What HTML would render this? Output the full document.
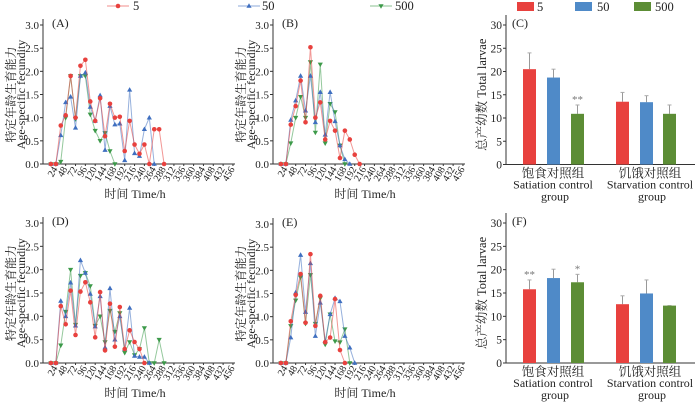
<!DOCTYPE html>
<html><head><meta charset="utf-8"><style>
body{margin:0;background:#fff}
svg{display:block}
svg text{font-family:"Liberation Serif","Noto Serif CJK SC",serif}
</style></head><body>
<svg id="c" width="700" height="402" viewBox="0 0 700 402"></svg>
<script>
const colors=["#e8413e","#3f6fc0","#3d9a4a"];
const barColors=["#e8413e","#4f8ac8","#5c8d35"];
const seriesNames=["5","50","500"];
const yTicks=[0,0.5,1.0,1.5,2.0,2.5,3.0];
const xTicks=[24,48,72,96,120,144,168,192,216,240,264,288,312,336,360,384,408,432,456];
const barTicks=[0,5,10,15,20,25,30];
const groups=["Satiation","Starvation"];
// line series (index i -> time 12*(i+1))
const A5=[0,0,0.83,1.05,1.9,1.0,2.12,2.25,1.35,0.93,1.42,0.6,1.3,1.0,1.02,0.28,0.93,0.42,0.22,0.42,0,0.75,0.75,0];
const A50=[0,0,0.62,1.33,1.45,0.78,1.9,1.97,1.23,0.93,1.48,0.3,1.25,0.85,0.87,0.08,1.6,0.23,0.17,0.75,1.0,0];
const A500=[0,0,0.05,1.0,1.9,0.97,1.9,1.9,1.07,0.72,0.5,0.67,0.28,0];
const B5=[0,0,0.85,1.25,1.8,0.9,2.52,1.0,1.33,0.53,0.93,0.72,0.13,0.72,0.53,0.2,0];
const B50=[0,0,0.95,1.37,1.9,1.15,1.9,0.9,1.55,0.63,1.55,0.92,0.4,0.1,0];
const B500=[0,0,0.45,1.0,1.45,1.0,2.2,0.68,2.15,0.45,1.3,1.12,0.4,0];
const D5=[0,0,1.22,0.83,1.55,0.6,1.53,1.73,1.3,0.55,1.52,0.27,1.27,0.35,1.2,0.3,0.7,0.45,0.3,0];
const D50=[0,0,1.33,1.0,1.72,0.8,2.2,1.93,1.48,0.78,1.43,0.33,1.6,0.5,1.0,0.3,1.18,0.15,0.13,0.13,0];
const D500=[0,0,0.38,1.1,2.0,0.82,1.87,1.93,1.65,0.8,1.0,0.45,1.12,0.67,1.07,0.22,0.45,0.17,0.3,0.75,0,0,0.5,0];
const E5=[0,0,0.9,1.47,1.92,0.87,2.35,0.8,1.45,0.45,0.55,1.38,0.28,0];
const E50=[0,0,0.55,1.52,2.33,1.1,2.15,0.58,1.3,0.47,1.05,1.4,1.33,0.58,0.33,0];
const E500=[0,0,0.8,1.35,1.85,0.85,1.9,0.85,1.4,0.4,1.05,0.47,0.45,0.73,0];
// bar data
const C_vals=[[20.5,18.7,10.9],[13.5,13.4,10.9]];
const C_err=[[24.0,20.5,12.8],[15.5,14.8,12.8]];
const C_sig=[["","","**"],["","",""]];
const F_vals=[[15.8,18.2,17.3],[12.6,14.9,12.3]];
const F_err=[[17.8,20.1,19.0],[14.4,17.8,12.3]];
const F_sig=[["**","","*"],["","",""]];

const svg=document.getElementById('c');
const NS="http://www.w3.org/2000/svg";
function mk(tag,attrs,parent,text){const e=document.createElementNS(NS,tag);for(const k in attrs)e.setAttribute(k,attrs[k]);if(text!==undefined)e.textContent=text;(parent||svg).appendChild(e);return e;}

function marker(g,shape,x,y,col){
  let m;
  if(shape===0)m=mk('circle',{cx:x,cy:y,r:2.3,fill:col},g);
  else if(shape===1)m=mk('polygon',{points:`${x},${y-2.8} ${x-2.6},${y+1.8} ${x+2.6},${y+1.8}`,fill:col},g);
  else m=mk('polygon',{points:`${x},${y+2.8} ${x-2.6},${y-1.8} ${x+2.6},${y-1.8}`,fill:col},g);
  return m;
}

function linePanel(name,label,ax,y0,y3,series){
  const g=mk('g',{});
  
  
  const ys=v=>y0-(v/3)*(y0-y3);
  const xs=t=>ax+3+t*0.41;
  const axEnd=ax+192;
  const yAx=mk('line',{x1:ax,y1:y3-6,x2:ax,y2:y0,stroke:'#333','stroke-width':1},g);
  
  const xAx=mk('line',{x1:ax,y1:y0,x2:axEnd,y2:y0,stroke:'#333','stroke-width':1},g);
  
  yTicks.forEach(v=>{
    mk('line',{x1:ax-3,y1:ys(v),x2:ax,y2:ys(v),stroke:'#333'},g);
    const t=mk('text',{x:ax-4,y:ys(v)+4,'text-anchor':'end','font-size':11,fill:'#222'},g,v.toFixed(1));
    
  });
  xTicks.forEach(v=>{
    const x=xs(v);
    mk('line',{x1:x,y1:y0,x2:x,y2:y0+2,stroke:'#333'},g);
    const t=mk('text',{x:x+2,y:y0+5,'text-anchor':'end','font-size':10,fill:'#222',transform:`rotate(-60 ${x+2} ${y0+5})`},g,String(v));
    
  });
  const pl=mk('text',{x:ax+9,y:y3+2,'font-size':12,fill:'#222'},g,label);
  
  const xt=mk('text',{x:ax+92,y:y0+34,'text-anchor':'middle','font-size':12,fill:'#222'},g,'时间 Time/h');
  
  const cy=(y0+y3)/2;
  const t1=mk('text',{x:ax-28,y:cy,'text-anchor':'middle','font-size':12,fill:'#222',transform:`rotate(-90 ${ax-28} ${cy})`},g,'特定年龄生育能力');
  
  const t2=mk('text',{x:ax-18,y:cy,'text-anchor':'middle','font-size':12,fill:'#222',transform:`rotate(-90 ${ax-18} ${cy})`},g,'Age-specific fecundity');
  
  [2,1,0].forEach(s=>{
    const d=series[s];
    const sg=mk('g',{},g);
    
    const pts=d.map((v,i)=>xs(12*(i+1))+','+ys(v)).join(' ');
    mk('polyline',{points:pts,fill:'none',stroke:colors[s],'stroke-width':1,'stroke-opacity':0.55},sg);
    d.forEach((v,i)=>{const m=marker(sg,s,xs(12*(i+1)),ys(v),colors[s]);
      });
  });
}

function barPanel(name,label,ax,y0,y30,vals,errs,sigs){
  const g=mk('g',{});
  
  
  const ys=v=>y0-(v/30)*(y0-y30);
  const yAx=mk('line',{x1:ax,y1:y30-10,x2:ax,y2:y0,stroke:'#333'},g);
  
  const xAx=mk('line',{x1:ax,y1:y0,x2:ax+189,y2:y0,stroke:'#333'},g);
  
  barTicks.forEach(v=>{
    mk('line',{x1:ax-3,y1:ys(v),x2:ax,y2:ys(v),stroke:'#333'},g);
    const t=mk('text',{x:ax-4,y:ys(v)+4,'text-anchor':'end','font-size':11.5,fill:'#222'},g,String(v));
    
  });
  const pl=mk('text',{x:ax+6,y:y30+2,'font-size':12,fill:'#222'},g,label);
  
  const cy=(y0+y30)/2;
  const yt=mk('text',{x:ax-20,y:cy,'text-anchor':'middle','font-size':12.5,fill:'#222',transform:`rotate(-90 ${ax-20} ${cy})`},g,'总产幼数 Total larvae');
  
  const gStart=[ax+17,ax+110];
  const bw=13,step=24;
  vals.forEach((grp,gi)=>{
    grp.forEach((v,bi)=>{
      const x=gStart[gi]+bi*step+(gi===1&&bi===2?-1:0);
      const e=errs[gi][bi];
      const el=mk('line',{x1:x+bw/2,y1:ys(e),x2:x+bw/2,y2:ys(v),stroke:'#999','stroke-width':1},g);
      
      mk('line',{x1:x+bw/2-2,y1:ys(e),x2:x+bw/2+2,y2:ys(e),stroke:'#aaa'},g);
      const r=mk('rect',{x:x,y:ys(v),width:bw,height:y0-ys(v),fill:barColors[bi]},g);
      
      
      if(sigs[gi][bi]){const s=mk('text',{x:x+bw/2,y:ys(e)-2,'text-anchor':'middle','font-size':11,fill:'#777'},g,sigs[gi][bi]);
        }
    });
  });
  const cats=[["饱食对照组","Satiation control","group",ax+47],["饥饿对照组","Starvation control","group",ax+144]];
  cats.forEach(c=>{
    const t=mk('text',{x:c[3],y:y0+13,'text-anchor':'middle','font-size':12.5,fill:'#222'},g,c[0]);
    
    const t2=mk('text',{x:c[3],y:y0+24,'text-anchor':'middle','font-size':12,fill:'#222'},g,c[1]);
    
    const t3=mk('text',{x:c[3]+2,y:y0+36,'text-anchor':'middle','font-size':12,fill:'#222'},g,c[2]);
    
  });
}

// line legend
const lg=mk('g',{});

[[107,133],[238,262],[370,395]].forEach((p,s)=>{
  const e=mk('g',{},lg);
  
  mk('line',{x1:p[0],y1:6,x2:p[0]+22,y2:6,stroke:colors[s],'stroke-opacity':0.6},e);
  marker(e,s,p[0]+11,6,colors[s]);
  mk('text',{x:p[1],y:10,'font-size':12.5,fill:'#222'},e,seriesNames[s]);
});
// bar legend
const bl=mk('g',{});

[[517,537],[575,597],[634,655]].forEach((p,s)=>{
  const e=mk('g',{},bl);
  
  mk('rect',{x:p[0],y:2,width:17,height:9,fill:barColors[s]},e);
  mk('text',{x:p[1],y:11,'font-size':12.5,fill:'#222'},e,seriesNames[s]);
});

linePanel('a','(A)',43,164,25,[A5,A50,A500]);
linePanel('b','(B)',273,164,25,[B5,B50,B500]);
linePanel('d','(D)',43,363,223,[D5,D50,D500]);
linePanel('e','(E)',273,363,224,[E5,E50,E500]);
barPanel('c','(C)',506,164.5,25,C_vals,C_err,C_sig);
barPanel('f','(F)',506,363,223,F_vals,F_err,F_sig);
</script>
</body></html>
